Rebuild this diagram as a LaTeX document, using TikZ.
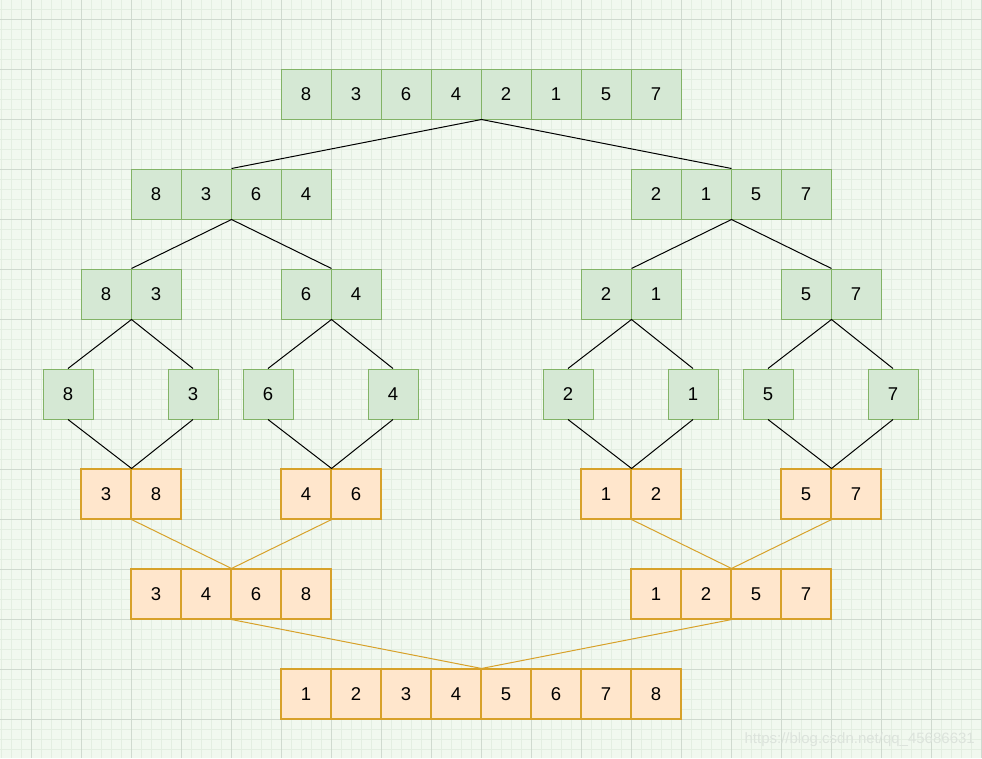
\documentclass[tikz,border=0pt]{standalone}
\usepackage{fontspec}
\setmainfont{Liberation Sans}
\definecolor{bg}{HTML}{F1F8EF}
\definecolor{gmin}{HTML}{E3EEE1}
\definecolor{gmaj}{HTML}{CFDACF}
\definecolor{gfill}{HTML}{D5E8D4}
\definecolor{gline}{HTML}{82B366}
\definecolor{ofill}{HTML}{FFE6CC}
\definecolor{oline}{HTML}{D7A12A}
\definecolor{wm}{HTML}{DCE3DC}
\tikzset{
  cellg/.style={draw=gline, fill=gfill, line width=1pt, minimum width=50pt, minimum height=50pt, inner sep=0pt, font=\fontsize{18.5}{20}\selectfont},
  cello/.style={draw=oline, fill=ofill, line width=1.1pt, minimum width=50pt, minimum height=50pt, inner sep=0pt, font=\fontsize{18.5}{20}\selectfont},
  splitline/.style={draw=black, line width=1pt},
  mergeline/.style={draw=oline, line width=1pt}
}
\begin{document}
\begin{tikzpicture}[x=1pt,y=-1pt]
\useasboundingbox (0,0) rectangle (982,758);
\fill[bg] (0,0) rectangle (982,758);
% minor grid
\foreach \x in {1,11,...,981} \draw[gmin, line width=0.6pt] (\x,0) -- (\x,758);
\foreach \y in {9,19,...,757} \draw[gmin, line width=0.6pt] (0,\y) -- (982,\y);
% major grid
\foreach \x in {31,81,...,981} \draw[gmaj, line width=0.7pt] (\x,0) -- (\x,758);
\foreach \y in {19,69,...,757} \draw[gmaj, line width=0.7pt] (0,\y) -- (982,\y);

% row 1
\foreach \v [count=\i] in {8,3,6,4,2,1,5,7}
  \node[cellg] (ra\i) at ({256+50*\i},94) {\v};
% row 2
\foreach \v [count=\i] in {8,3,6,4}
  \node[cellg] (rbl\i) at ({106+50*\i},194) {\v};
\foreach \v [count=\i] in {2,1,5,7}
  \node[cellg] (rbr\i) at ({606+50*\i},194) {\v};
% row 3
\foreach \v [count=\i] in {8,3} \node[cellg] (rcA\i) at ({56+50*\i},294) {\v};
\foreach \v [count=\i] in {6,4} \node[cellg] (rcB\i) at ({256+50*\i},294) {\v};
\foreach \v [count=\i] in {2,1} \node[cellg] (rcC\i) at ({556+50*\i},294) {\v};
\foreach \v [count=\i] in {5,7} \node[cellg] (rcD\i) at ({756+50*\i},294) {\v};
% row 4
\node[cellg] (rd1) at (68,394) {8};
\node[cellg] (rd2) at (193,394) {3};
\node[cellg] (rd3) at (268,394) {6};
\node[cellg] (rd4) at (393,394) {4};
\node[cellg] (rd5) at (568,394) {2};
\node[cellg] (rd6) at (693,394) {1};
\node[cellg] (rd7) at (768,394) {5};
\node[cellg] (rd8) at (893,394) {7};
% row 5
\foreach \v [count=\i] in {3,8} \node[cello] (reA\i) at ({56+50*\i},494) {\v};
\foreach \v [count=\i] in {4,6} \node[cello] (reB\i) at ({256+50*\i},494) {\v};
\foreach \v [count=\i] in {1,2} \node[cello] (reC\i) at ({556+50*\i},494) {\v};
\foreach \v [count=\i] in {5,7} \node[cello] (reD\i) at ({756+50*\i},494) {\v};
% row 6
\foreach \v [count=\i] in {3,4,6,8}
  \node[cello] (rfl\i) at ({106+50*\i},594) {\v};
\foreach \v [count=\i] in {1,2,5,7}
  \node[cello] (rfr\i) at ({606+50*\i},594) {\v};
% row 7
\foreach \v [count=\i] in {1,2,3,4,5,6,7,8}
  \node[cello] (rg\i) at ({256+50*\i},694) {\v};

% split lines
\draw[splitline] (rbl2.north east) -- (ra4.south east) -- (rbr2.north east);
\draw[splitline] (rcA1.north east) -- (rbl2.south east) -- (rcB1.north east);
\draw[splitline] (rcC1.north east) -- (rbr2.south east) -- (rcD1.north east);
\draw[splitline] (rd1.north) -- (rcA1.south east) -- (rd2.north);
\draw[splitline] (rd3.north) -- (rcB1.south east) -- (rd4.north);
\draw[splitline] (rd5.north) -- (rcC1.south east) -- (rd6.north);
\draw[splitline] (rd7.north) -- (rcD1.south east) -- (rd8.north);
% join lines
\draw[splitline] (rd1.south) -- (reA1.north east) -- (rd2.south);
\draw[splitline] (rd3.south) -- (reB1.north east) -- (rd4.south);
\draw[splitline] (rd5.south) -- (reC1.north east) -- (rd6.south);
\draw[splitline] (rd7.south) -- (reD1.north east) -- (rd8.south);
% merge lines
\draw[mergeline] (reA1.south east) -- (rfl2.north east) -- (reB1.south east);
\draw[mergeline] (reC1.south east) -- (rfr2.north east) -- (reD1.south east);
\draw[mergeline] (rfl2.south east) -- (rg4.north east) -- (rfr2.south east);

% watermark
\node[anchor=east, text=wm, font=\fontsize{15}{17}\selectfont, inner sep=0pt] (wmark) at (975,740) {https://blog.csdn.net/qq\_45686631};
\end{tikzpicture}
\end{document}
